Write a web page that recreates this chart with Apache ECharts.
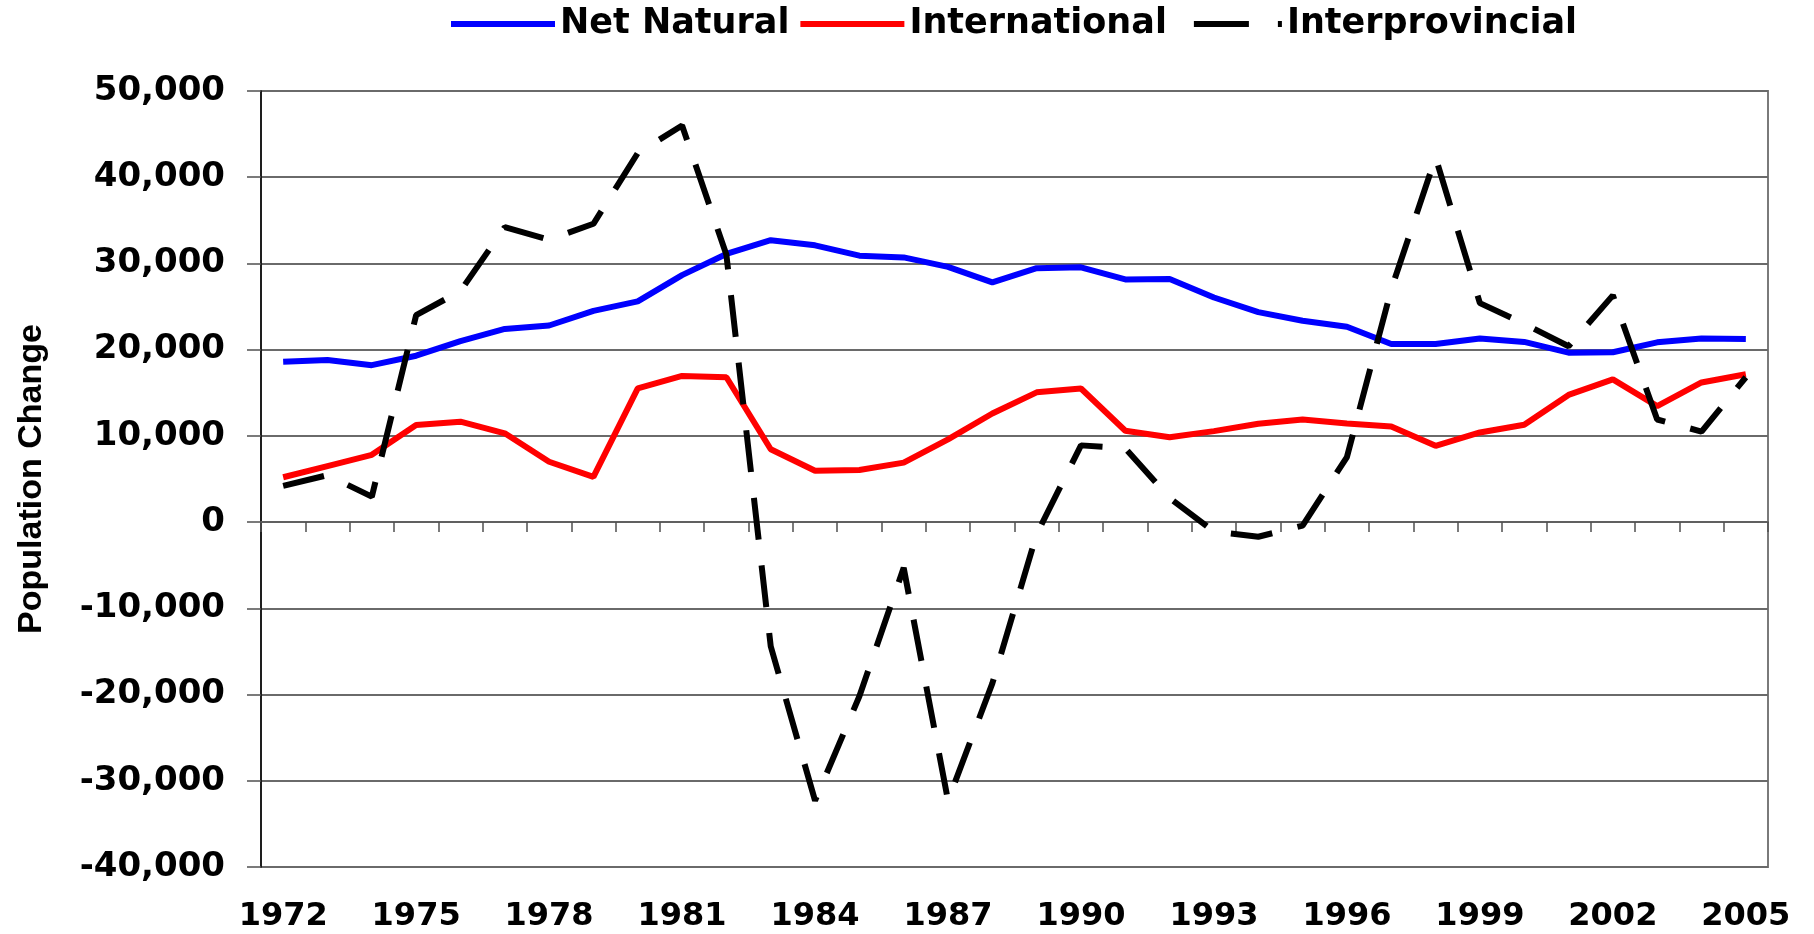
<!DOCTYPE html>
<html>
<head>
<meta charset="utf-8">
<script src="https://cdn.jsdelivr.net/npm/echarts@6/dist/echarts.min.js"></script>
<style>
html,body{margin:0;padding:0;background:#fff;}
#chart{width:1814px;height:934px;}
</style>
</head>
<body>
<div id="chart"></div>
<script>
var years = ['1972','1973','1974','1975','1976','1977','1978','1979','1980','1981','1982','1983','1984','1985','1986','1987','1988','1989','1990','1991','1992','1993','1994','1995','1996','1997','1998','1999','2000','2001','2002','2003','2004','2005'];
var netNatural = [18600,18800,18200,19300,21000,22400,22800,24500,25600,28650,31100,32700,32100,30900,30700,29600,27800,29450,29550,28150,28200,26050,24350,23350,22650,20650,20650,21300,20900,19650,19700,20850,21300,21250];
var international = [5200,6500,7800,11250,11650,10300,7000,5250,15500,16950,16800,8450,5950,6050,6900,9600,12600,15050,15500,10600,9850,10550,11400,11900,11450,11100,8850,10400,11300,14750,16550,13450,16200,17150];
var interprovincial = [4200,5450,2950,24000,26800,34200,32750,34600,42800,46000,31000,-14400,-32300,-20200,-5300,-32300,-18700,-1400,8900,8550,2800,-1100,-1700,-400,7550,27000,42300,25400,23000,20400,26300,11900,10500,16800];
var seriesNames = ['Net Natural','International','Interprovincial'];
var yTicks = {min:-40000, max:50000, interval:10000};

var chart = echarts.init(document.getElementById('chart'));
var labelFont = {fontFamily:'DejaVu Sans', fontWeight:'bold', color:'#000'};
chart.setOption({
  animation:false,
  backgroundColor:'#fff',
  grid:{left:261, right:46, top:91, bottom:67, show:true, borderColor:'#7a7a7a', borderWidth:2, backgroundColor:'transparent'},
  legend:{
    left:448, top:4, padding:0, itemWidth:104, itemHeight:20, itemGap:8,
    itemStyle:{color:'rgba(0,0,0,0)', borderWidth:0, opacity:0},
    lineStyle:{width:6, cap:'butt'},
    textStyle:{fontFamily:'DejaVu Sans', fontWeight:'bold', fontSize:35, color:'#000', lineHeight:40},
    data:[
      {name:seriesNames[0]},
      {name:seriesNames[1]},
      {name:seriesNames[2], lineStyle:{width:6, cap:'butt', type:[0,16,55,29,6,100]}}
    ]
  },
  xAxis:[
    {type:'category', data:years, boundaryGap:true, position:'bottom',
     axisLine:{show:false, onZero:false}, axisTick:{show:false}, splitLine:{show:false},
     axisLabel:Object.assign({fontSize:32, interval:2, margin:34}, labelFont)},
    {type:'category', data:years, boundaryGap:true, position:'bottom',
     axisLine:{show:true, onZero:true, lineStyle:{color:'#606060', width:2}},
     axisTick:{show:true, length:10, interval:0, lineStyle:{color:'#505050', width:1.5}},
     axisLabel:{show:false}, splitLine:{show:false}}
  ],
  yAxis:{
    type:'value', min:yTicks.min, max:yTicks.max, interval:yTicks.interval,
    name:'Population Change', nameLocation:'middle', nameGap:212, nameRotate:90,
    nameTextStyle:{fontFamily:'Liberation Sans', fontWeight:'bold', fontSize:34, color:'#000'},
    axisLine:{show:true, lineStyle:{color:'#000', width:1.5}},
    axisTick:{show:true, length:14, lineStyle:{color:'#505050', width:1.5}},
    splitLine:{show:true, lineStyle:{color:'#6a6a6a', width:2}},
    axisLabel:Object.assign({fontSize:34, margin:36, formatter:function(v){return v.toLocaleString('en-US');}}, labelFont)
  },
  series:[
    {name:seriesNames[0], type:'line', data:netNatural, symbol:'none', xAxisIndex:0,
     lineStyle:{color:'#0000ff', width:6}, itemStyle:{color:'#0000ff'}, z:3},
    {name:seriesNames[1], type:'line', data:international, symbol:'none', xAxisIndex:0,
     lineStyle:{color:'#ff0000', width:6}, itemStyle:{color:'#ff0000'}, z:3},
    {name:seriesNames[2], type:'line', data:interprovincial, symbol:'none', xAxisIndex:0,
     lineStyle:{color:'#000', width:6, type:[42,26], cap:'butt'}, itemStyle:{color:'#000'}, z:4}
  ]
});
</script>
</body>
</html>
